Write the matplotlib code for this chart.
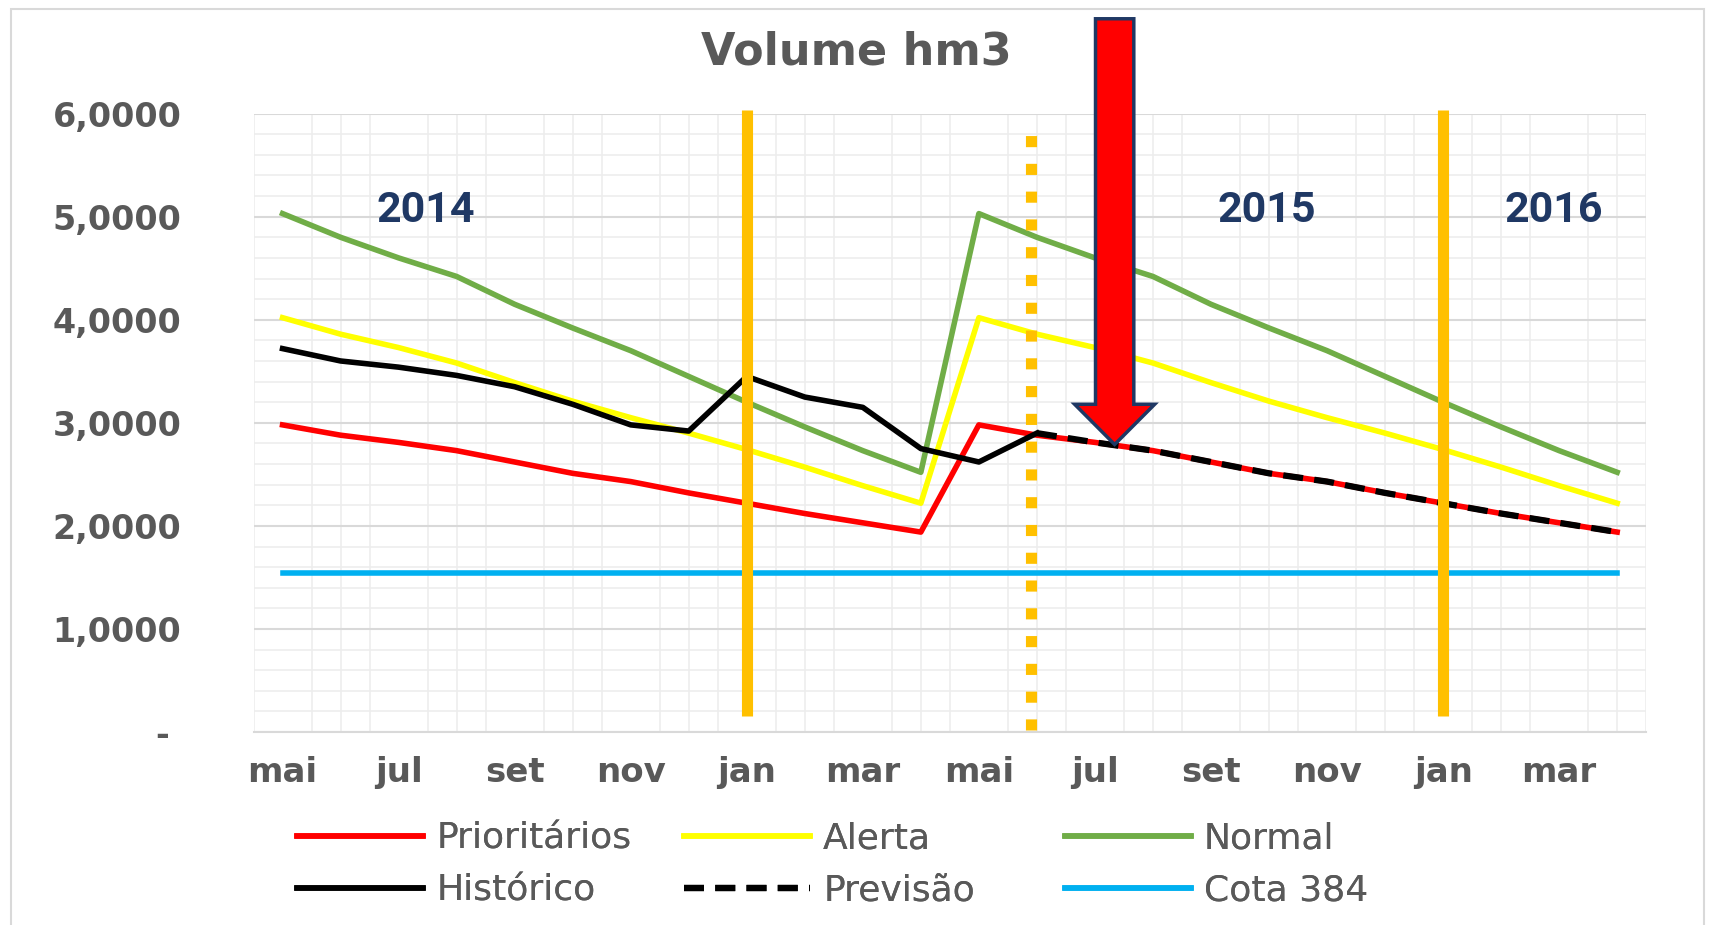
import numpy as np
import matplotlib.pyplot as plt
from matplotlib.patches import Polygon, Rectangle

# months from mai/2014 to abr/2016
months = ['mai', 'jun', 'jul', 'ago', 'set', 'out', 'nov', 'dez', 'jan', 'fev', 'mar', 'abr'] * 2

prioritarios = [2.98, 2.88, 2.81, 2.73, 2.62, 2.51, 2.43, 2.32, 2.22, 2.12, 2.03, 1.94,
                2.98, 2.88, 2.81, 2.73, 2.62, 2.51, 2.43, 2.32, 2.22, 2.12, 2.03, 1.94]
alerta = [4.02, 3.86, 3.73, 3.58, 3.39, 3.21, 3.05, 2.90, 2.74, 2.57, 2.39, 2.22,
          4.02, 3.86, 3.73, 3.58, 3.39, 3.21, 3.05, 2.90, 2.74, 2.57, 2.39, 2.22]
normal = [5.03, 4.80, 4.60, 4.42, 4.15, 3.92, 3.70, 3.45, 3.20, 2.96, 2.73, 2.52,
          5.03, 4.80, 4.60, 4.42, 4.15, 3.92, 3.70, 3.45, 3.20, 2.96, 2.73, 2.52]
historico = [3.72, 3.60, 3.54, 3.46, 3.35, 3.18, 2.98, 2.92, 3.45, 3.25, 3.15, 2.75,
             2.62, 2.90]
previsao = [2.90, 2.81, 2.73, 2.62, 2.51, 2.43, 2.32, 2.22, 2.12, 2.03, 1.94]
cota_384 = 1.54

year_labels = ['2014', '2015', '2016']
year_pos = [2.47, 16.96, 21.9]
year_breaks = [8, 20]      # jan/2015 and jan/2016
forecast_start = 12.9

x = np.arange(len(months))
n_hist = len(historico)
hist = historico + [np.nan] * (len(months) - n_hist)
prev = [np.nan] * (len(months) - len(previsao)) + previsao

gray = '#595959'

fig = plt.figure(figsize=(17.13, 9.25), dpi=100)
ax = fig.add_axes([0.148, 0.2086, 0.813, 0.6686])

# chart border
fig.patches.append(Rectangle((0.0065, -0.05), 0.988, 1.04, transform=fig.transFigure,
                             fill=False, ec='#D9D9D9', lw=1.5))

l1, = ax.plot(x, prioritarios, color='#FF0000', lw=4, label='Prioritários', zorder=3)
l2, = ax.plot(x, alerta, color='#FFFF00', lw=4, label='Alerta', zorder=3)
l3, = ax.plot(x, normal, color='#70AD47', lw=4, label='Normal', zorder=3)
l4, = ax.plot(x, hist, color='black', lw=4, label='Histórico', zorder=4)
l5, = ax.plot(x, prev, color='black', lw=4.5, ls=(0, (3.2, 1.8)), label='Previsão', zorder=4)
l6, = ax.plot(x, [cota_384] * len(x), color='#00B0F0', lw=4, label='Cota 384', zorder=3)

# year separators
for xb in year_breaks:
    ax.plot([xb, xb], [0.16, 6.03], color='#FFC000', lw=8, zorder=5, clip_on=False,
            solid_capstyle='butt')
ax.plot([forecast_start, forecast_start], [0.02, 5.86], color='#FFC000', lw=8,
        ls=(0, (1.0, 1.5)), dash_capstyle='butt', zorder=5, clip_on=False)

for lab, xp in zip(year_labels, year_pos):
    ax.text(xp, 5.06, lab, ha='center', va='center', fontsize=31, fontweight='bold',
            color='#1F3864', family='Roboto', zorder=6)

# red arrow
cx, top, neck, tip = 14.34, 6.92, 3.18, 2.79
sw, hw = 0.33, 0.69
arrow = Polygon([(cx - sw, top), (cx + sw, top), (cx + sw, neck), (cx + hw, neck),
                 (cx, tip), (cx - hw, neck), (cx - sw, neck)],
                closed=True, fc='#FF0000', ec='#1F3864', lw=2.5, zorder=10, clip_on=False)
ax.add_patch(arrow)

ax.set_xlim(-0.5, 23.5)
ax.set_ylim(0, 6)

ax.set_xticks(x[::2])
ax.set_xticklabels(months[::2])
ax.set_xticks(np.arange(-0.5, 24, 0.5), minor=True)
ax.set_yticks(range(7))
ax.set_yticklabels(['- '] + [f'{v},0000' for v in range(1, 7)])
ax.set_yticks(np.arange(0, 6.01, 0.2), minor=True)

ax.grid(which='minor', color='#EDEDED', lw=1.2, zorder=0)
ax.grid(which='major', axis='y', color='#D9D9D9', lw=1.5, zorder=0)
ax.set_axisbelow(True)

ax.tick_params(which='both', length=0)
ax.tick_params(axis='y', pad=52, labelsize=24, labelcolor=gray)
ax.tick_params(axis='x', pad=17, labelsize=24.5, labelcolor=gray)
for t in ax.get_xticklabels() + ax.get_yticklabels():
    t.set_fontweight('bold')

for s in ['top', 'right', 'left']:
    ax.spines[s].set_visible(False)
ax.spines['bottom'].set_color('#D9D9D9')
ax.spines['bottom'].set_linewidth(1.5)

fig.text(0.5, 0.944, 'Volume hm3', ha='center', va='center', fontsize=32,
         fontweight='bold', color=gray)

# legend in three columns, like the Excel one
cols = [([l1, l4], 0.1734), ([l2, l5], 0.3993), ([l3, l6], 0.6217)]
for handles, xpos in cols:
    leg = fig.legend(handles, [h.get_label() for h in handles], loc='center left',
                     bbox_to_anchor=(xpos, 0.0655), frameon=False, fontsize=26,
                     handlelength=3.5, handletextpad=0.35, labelspacing=0.5,
                     borderpad=0, borderaxespad=0, labelcolor=gray)
    fig.add_artist(leg)

fig.savefig('out.png', dpi=100)
